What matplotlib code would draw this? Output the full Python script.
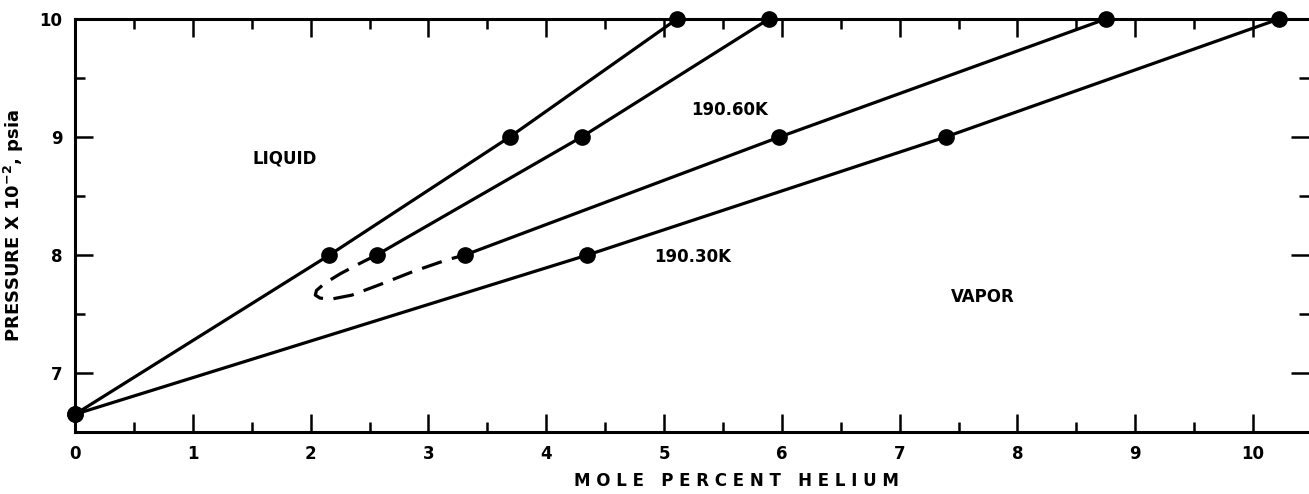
import matplotlib.pyplot as plt
from matplotlib.ticker import MultipleLocator

# curvas de equilibrio (mole % helio, pressao x 10^-2 psia)
liq_19030_x = [0.0, 2.16, 3.69, 5.11]
liq_19030_y = [6.65, 8.0, 9.0, 10.0]

liq_19060_x = [2.56, 4.30, 5.89]
liq_19060_y = [8.0, 9.0, 10.0]

vap_19060_x = [3.31, 5.98, 8.75]
vap_19060_y = [8.0, 9.0, 10.0]

vap_19030_x = [0.0, 4.35, 7.39, 10.22]
vap_19030_y = [6.65, 8.0, 9.0, 10.0]

# trecho tracejado (regiao critica estimada)
loop_x = [2.56, 2.42, 2.25, 2.12, 2.05, 2.04, 2.08, 2.17, 2.35, 2.59, 2.87, 3.16, 3.31]
loop_y = [8.00, 7.93, 7.84, 7.76, 7.70, 7.66, 7.635, 7.625, 7.66, 7.75, 7.86, 7.96, 8.00]

rotulos = [('LIQUID', 1.78, 8.82), ('190.60K', 5.56, 9.23),
           ('190.30K', 5.24, 7.98), ('VAPOR', 7.71, 7.64)]

plt.rcParams['font.family'] = 'DejaVu Sans'
plt.rcParams['font.weight'] = 'bold'

fig = plt.figure(figsize=(13.09, 4.94), dpi=100)
ax = fig.add_axes([75 / 1309, 1 - 432 / 494, 1 - 75 / 1309, (432 - 19) / 494])

lw = 2.3
for xs, ys in [(liq_19030_x, liq_19030_y), (liq_19060_x, liq_19060_y),
               (vap_19060_x, vap_19060_y), (vap_19030_x, vap_19030_y)]:
    ax.plot(xs, ys, color='black', lw=lw, marker='o', markersize=11,
            solid_joinstyle='round', clip_on=False, zorder=3)

ax.plot(loop_x, loop_y, color='black', lw=lw, dashes=(6.5, 3.3))

for texto, x, y in rotulos:
    ax.text(x, y, texto, ha='center', va='center', fontsize=12, fontweight='bold')

ax.set_xlim(0, 10.475)
ax.set_ylim(6.5, 10)

ax.xaxis.set_major_locator(MultipleLocator(1))
ax.xaxis.set_minor_locator(MultipleLocator(0.5))
ax.yaxis.set_major_locator(MultipleLocator(1))
ax.yaxis.set_minor_locator(MultipleLocator(0.5))
ax.set_yticks([7, 8, 9, 10])

ax.tick_params(which='both', direction='in', top=True, right=True, width=1.8,
               labelsize=12, pad=9)
ax.tick_params(which='major', length=13)
ax.tick_params(which='minor', length=7)

for s in ['left', 'bottom', 'top']:
    ax.spines[s].set_linewidth(2.2)
ax.spines['right'].set_visible(False)

# rotulo do eixo x com letras espacadas, como no original
fig.text(736 / 1309, 1 - 481 / 494, 'M O L E   P E R C E N T   H E L I U M',
         ha='center', va='center', fontsize=12, fontweight='bold')
ax.set_ylabel('PRESSURE X 10$^{-2}$, psia', fontsize=13, fontweight='bold', labelpad=10)

fig.savefig('out.png', dpi=100)
